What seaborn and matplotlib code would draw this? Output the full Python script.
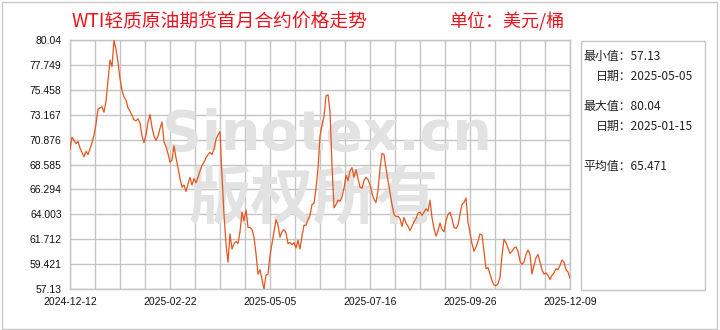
import matplotlib
matplotlib.use("Agg")
import matplotlib.pyplot as plt
from matplotlib.patches import Rectangle
import numpy as np
import pandas as pd
import seaborn as sns

# ---------------- data ----------------
prices = [
    69.96, 71.1, 70.8, 70.5, 70.7, 70.1, 69.7, 69.3, 69.8, 69.5,
    70.0, 70.6, 71.3, 72.3, 73.7, 73.8, 73.9, 73.4, 74.4, 76.3,
    78.2, 77.6, 80.04, 79.2, 78.0, 76.5, 75.4, 74.8, 74.5, 73.8,
    73.5, 73.1, 72.7, 72.6, 72.8, 72.4, 71.2, 70.6, 71.3, 72.5,
    73.17, 72.0, 71.2, 70.8, 71.2, 71.9, 72.5, 70.7, 70.2, 69.6,
    68.8, 69.0, 70.3, 69.2, 68.3, 67.3, 66.5, 66.7, 66.1, 66.8,
    67.4, 66.7, 67.3, 66.9, 67.4, 68.0, 68.5, 68.8, 69.2, 69.5,
    69.7, 69.5, 70.0, 70.9, 71.3, 71.6, 67.5, 64.0, 61.3, 59.6,
    62.2, 60.8, 61.3, 61.5, 61.3, 62.4, 64.2, 63.4, 64.4, 62.8,
    62.8, 62.6, 61.9, 60.4, 58.5, 58.9, 58.0, 57.13, 58.4, 58.5,
    60.2, 61.3, 62.4, 63.5, 63.0, 61.9, 62.4, 62.6, 62.3, 61.3,
    61.4, 61.2, 61.4, 60.9, 61.6, 60.8, 62.0, 63.0, 63.0, 63.5,
    63.9, 64.9, 65.0, 66.4, 68.2, 71.2, 72.2, 73.0, 74.9, 75.0,
    73.5, 68.5, 64.6, 64.9, 65.3, 65.2, 65.6, 66.4, 67.6, 67.1,
    68.0, 68.3, 67.4, 68.1, 67.3, 66.5, 66.4, 67.1, 67.4, 67.2,
    66.7, 65.9, 65.4, 65.1, 66.2, 68.2, 69.6, 69.5, 68.2, 67.1,
    66.0, 64.9, 64.0, 63.8, 63.8, 63.6, 62.9, 63.7, 63.2, 62.9,
    62.5, 62.9, 63.3, 63.6, 64.1, 64.2, 63.9, 64.2, 64.5, 64.3,
    65.3, 63.7, 62.7, 62.0, 62.5, 63.2, 62.6, 62.4, 63.4, 64.0,
    64.2, 63.6, 62.8, 62.7, 63.0, 64.0, 64.9, 65.1, 65.5, 63.3,
    62.3, 61.3, 60.6, 61.0, 61.5, 62.2, 62.1, 60.6, 59.0, 59.1,
    58.5, 57.9, 57.5, 57.44, 57.6, 58.2, 60.2, 61.7, 61.4, 60.9,
    60.4, 60.6, 60.9, 61.0, 60.6, 59.7, 59.4, 59.6, 60.3, 60.7,
    60.3, 58.5, 59.3, 60.0, 60.3, 59.6, 58.9, 58.5, 58.6, 58.4,
    58.0, 58.4, 58.6, 59.0, 58.9, 59.3, 59.8, 59.6, 58.9, 58.7,
    58.1,
]
x_tick_labels = ["2024-12-12", "2025-02-22", "2025-05-05",
                 "2025-07-16", "2025-09-26", "2025-12-09"]
y_tick_labels = ["57.13", "59.421", "61.712", "64.003", "66.294", "68.585",
                 "70.876", "73.167", "75.458", "77.749", "80.04"]
title_text = "WTI轻质原油期货首月合约价格走势"
unit_text = "单位：美元/桶"
stat_lines = [("最小值：57.13", 0), ("日期：2025-05-05", 1),
              ("最大值：80.04", 0), ("日期：2025-01-15", 1),
              ("平均值：65.471", 0)]

df = pd.DataFrame({"idx": np.arange(len(prices)), "price": prices})

# ---------------- style ----------------
sns.set_theme(style="white")
plt.rcParams["font.family"] = ["Noto Sans CJK SC", "DejaVu Sans"]

W, H = 720, 330
fig = plt.figure(figsize=(W / 100, H / 100), dpi=100)
fig.patch.set_facecolor("white")


def fx(x):
    return x / W


def fy(y):
    return 1 - y / H


ax = fig.add_axes([fx(70), fy(289), 500 / W, 249 / H])
ax.set_facecolor("white")

grid_c = "#c4c4c4"
# watermark
ax.text(0.513, (289 - 150) / 249, "Sinotex.cn", transform=ax.transAxes,
        ha="center", va="baseline", fontsize=40, fontweight="bold",
        family="DejaVu Sans", color="#e2e2e2", zorder=1.5)
ax.text(0.486, (289 - 200) / 249, "版权所有", transform=ax.transAxes,
        ha="center", va="center", fontsize=45, fontweight="bold",
        family=["Noto Sans CJK SC"], color="#e2e2e2", zorder=1.5)

sns.lineplot(data=df, x="idx", y="price", ax=ax, color="#e4561e",
             linewidth=0.9, zorder=3)

n = len(prices) - 1
ax.set_xlim(0, n)
ymin, ymax = float(y_tick_labels[0]), float(y_tick_labels[-1])
ax.set_ylim(ymin, ymax)

x_ticks = np.linspace(0, n, len(x_tick_labels))
ax.set_xticks(x_ticks)
ax.set_xticklabels(x_tick_labels)
ax.set_xticks(np.linspace(0, n, 21), minor=True)
y_ticks = [float(v) for v in y_tick_labels]
ax.set_yticks(y_ticks)
ax.set_yticklabels(y_tick_labels)

ax.grid(True, which="both", axis="x", color=grid_c, linewidth=1.0, zorder=1)
ax.grid(True, which="major", axis="y", color=grid_c, linewidth=1.0, zorder=1)
ax.set_axisbelow(True)
ax.tick_params(axis="both", which="both", length=0, labelsize=7.5,
               labelcolor="#111111")
ax.tick_params(axis="x", pad=6)
ax.tick_params(axis="y", pad=6)
for lab in ax.get_xticklabels() + ax.get_yticklabels():
    lab.set_family("Liberation Sans")
for s in ax.spines.values():
    s.set_color(grid_c)
    s.set_linewidth(1.0)
ax.set_xlabel("")
ax.set_ylabel("")

# titles
fig.text(fx(72), fy(22), title_text, color="#e8141e", fontsize=13.5,
         ha="left", va="center")
fig.text(fx(449), fy(22), unit_text, color="#e8141e", fontsize=13,
         ha="left", va="center")

# stats panel
fig.patches.append(Rectangle((fx(580.5), fy(289.5)), (705 - 580.5) / W,
                             (289.5 - 40.5) / H, transform=fig.transFigure,
                             fill=False, edgecolor=grid_c, linewidth=1.0))
ys = [56, 76, 106, 126, 166]
for (txt, indent), yy in zip(stat_lines, ys):
    fig.text(fx(583.5 + 12.5 * indent), fy(yy), txt, fontsize=8.6,
             color="#222222", ha="left", va="center")

# outer border
fig.patches.append(Rectangle((fx(1.5), fy(328.8)), (716.5 - 1.5) / W,
                             (328.8 - 1.5) / H, transform=fig.transFigure,
                             fill=False, edgecolor="#c8c8c8", linewidth=1.0))

fig.savefig("out.png", dpi=100, facecolor="white")
